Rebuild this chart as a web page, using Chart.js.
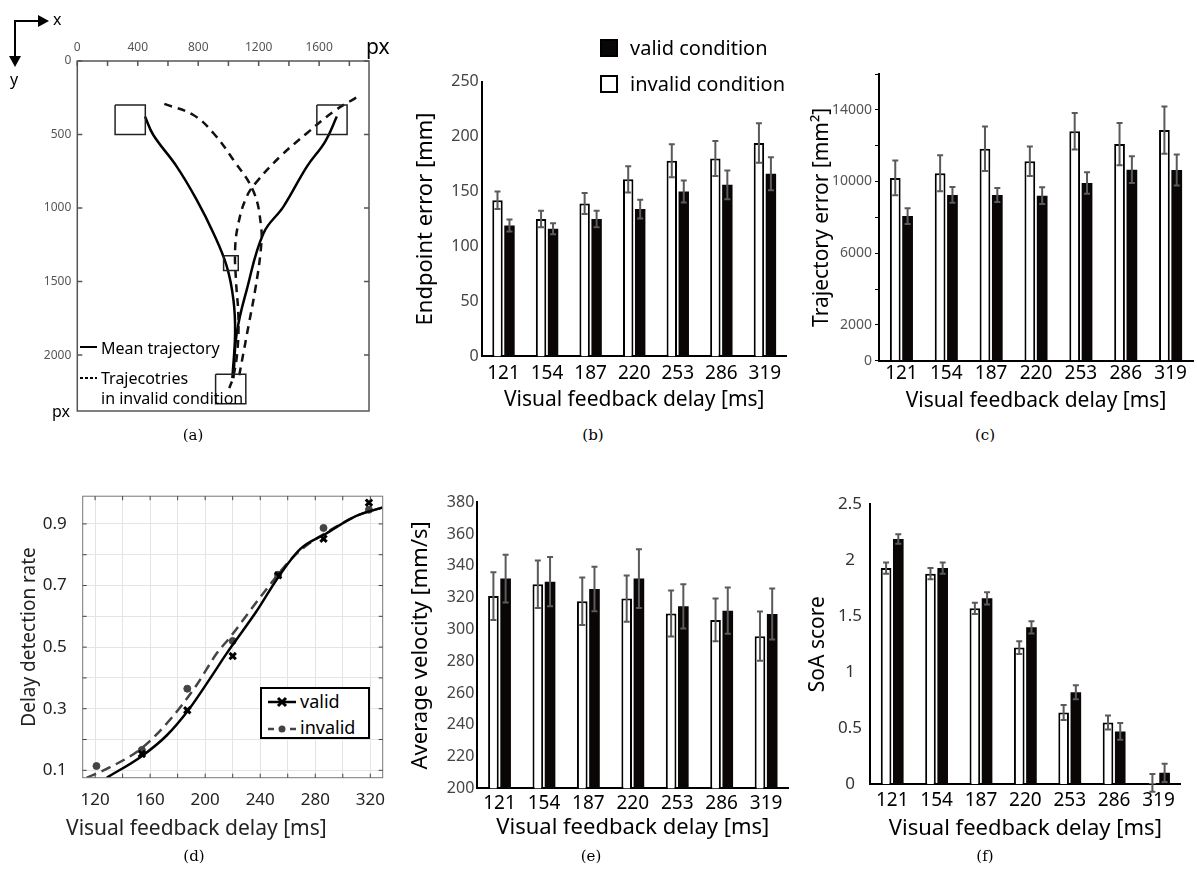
<!DOCTYPE html>
<html>
<head>
<meta charset="utf-8">
<title>Visual feedback delay results</title>
<script src="https://cdn.jsdelivr.net/npm/chart.js@4.4.1/dist/chart.umd.min.js"></script>
<style>
  body { margin: 0; background: #fff; font-family: "Noto Sans", sans-serif; color: #000; }
  #page { position: relative; width: 1197px; height: 881px; overflow: hidden; }
  .panel { position: absolute; display: block; }
  .txt { position: absolute; white-space: nowrap; line-height: 1; transform: translateY(-50%); }
  .cap { position: absolute; font-family: "DejaVu Serif", serif; font-size: 15px; transform: translate(-50%, -50%); }
  .sq { position: absolute; width: 18px; height: 18px; box-sizing: border-box; border: 2px solid #000; }
  #legD { position: absolute; left: 260px; top: 687px; width: 110px; height: 52px; box-sizing: border-box; border: 2px solid #000; background: #fff; }
</style>
</head>
<body>
<div id="page">
  <canvas id="chartA" class="panel" width="400" height="430" style="left:0;top:0"></canvas>
  <canvas id="chartB" class="panel" width="397" height="360" style="left:400px;top:60px"></canvas>
  <canvas id="chartC" class="panel" width="397" height="360" style="left:800px;top:60px"></canvas>
  <canvas id="chartD" class="panel" width="400" height="380" style="left:0;top:470px"></canvas>
  <canvas id="chartE" class="panel" width="397" height="380" style="left:400px;top:470px"></canvas>
  <canvas id="chartF" class="panel" width="407" height="380" style="left:790px;top:470px"></canvas>

  <!-- (a) axes arrows and notes -->
  <svg class="panel" style="left:0;top:0" width="70" height="90">
    <path d="M15 58 V21 H39" fill="none" stroke="#000" stroke-width="2"/>
    <path d="M38 15 L49 21 L38 27 Z" fill="#000"/>
    <path d="M9 56 L15 67 L21 56 Z" fill="#000"/>
  </svg>
  <div class="txt" style="left:53px;top:19px;font-size:16px">x</div>
  <div class="txt" style="left:10px;top:79px;font-size:16px">y</div>
  <div class="txt" style="left:366px;top:46px;font-size:21px">px</div>
  <div class="txt" style="left:52px;top:411px;font-size:16px">px</div>
  <svg class="panel" style="left:78px;top:340px" width="22" height="45">
    <line x1="2" y1="7" x2="19" y2="7" stroke="#000" stroke-width="2"/>
    <line x1="2" y1="38" x2="19" y2="38" stroke="#000" stroke-width="2" stroke-dasharray="3 2"/>
  </svg>
  <div class="txt" style="left:101px;top:348px;font-size:16px">Mean trajectory</div>
  <div class="txt" style="left:101px;top:378px;font-size:16px">Trajecotries</div>
  <div class="txt" style="left:101px;top:398px;font-size:16px">in invalid condition</div>

  <!-- (b) legend -->
  <div class="sq" style="left:600px;top:39px;background:#0a0606"></div>
  <div class="txt" style="left:630px;top:48px;font-size:20px">valid condition</div>
  <div class="sq" style="left:600px;top:75px;background:#fff"></div>
  <div class="txt" style="left:630px;top:84px;font-size:20px">invalid condition</div>

  <!-- (d) legend -->
  <div id="legD">
    <svg class="panel" style="left:4px;top:2px" width="32" height="46">
      <line x1="2" y1="11" x2="30" y2="11" stroke="#000" stroke-width="2.5"/>
      <path d="M12 7 L20 15 M20 7 L12 15" stroke="#000" stroke-width="3"/>
      <line x1="2" y1="38" x2="30" y2="38" stroke="#444" stroke-width="2.5" stroke-dasharray="6 5"/>
      <circle cx="16" cy="38" r="3.5" fill="#444"/>
    </svg>
    <div class="txt" style="left:38px;top:12px;font-size:18px">valid</div>
    <div class="txt" style="left:38px;top:38px;font-size:18px">invalid</div>
  </div>

  <div class="cap" style="left:193px;top:435px">(a)</div>
  <div class="cap" style="left:593px;top:435px">(b)</div>
  <div class="cap" style="left:985px;top:435px">(c)</div>
  <div class="cap" style="left:194px;top:856px">(d)</div>
  <div class="cap" style="left:591px;top:856px">(e)</div>
  <div class="cap" style="left:985px;top:856px">(f)</div>
</div>

<script>
// ---- data ----
const delays = ["121", "154", "187", "220", "253", "286", "319"];
const delayMs = [121, 154, 187, 220, 253, 286, 319];

// (a) trajectories on screen [px]
const screenTicksX = [0, 200, 400, 600, 800, 1000, 1200, 1400, 1600, 1800];
const screenTicksY = [0, 500, 1000, 1500, 2000];
const meanLeft = [[1026, 2156], [1044, 1850], [1033, 1624], [989, 1397], [901, 1171], [790, 944], [658, 718], [503, 503], [448, 378]];
const meanRight = [[1033, 2156], [1055, 1850], [1121, 1556], [1232, 1171], [1364, 990], [1519, 718], [1640, 548], [1717, 378]];
const invalidA = [[576, 292], [768, 367], [901, 491], [1033, 673], [1166, 888], [1216, 1125], [1214, 1284], [1177, 1556], [1132, 1805], [1099, 1986], [1066, 2167]];
const invalidB = [[1845, 249], [1695, 344], [1519, 491], [1342, 650], [1188, 820], [1121, 922], [1066, 1103], [1044, 1284], [1051, 1510], [1066, 1737], [1060, 1963], [1033, 2144], [1006, 2224]];
// boxes: x1, y1, x2, y2
const boxes = [[250, 300, 450, 500], [1585, 300, 1785, 500], [968, 1325, 1065, 1425], [915, 2130, 1115, 2330]];

// (b) endpoint error [mm]
const endpointInvalid = [142, 125, 139, 161, 178, 180, 194];
const endpointInvalidErr = [8, 7.5, 9.5, 12, 15, 16, 18];
const endpointValid = [119, 116, 125, 134, 150, 156, 166];
const endpointValidErr = [5.5, 5, 7.5, 8.5, 10, 13, 15];

// (c) trajectory error [mm^2]
const trajInvalid = [10200, 10460, 11830, 11130, 12800, 12090, 12870];
const trajInvalidErr = [970, 1010, 1240, 820, 1020, 1180, 1320];
const trajValid = [8070, 9250, 9250, 9210, 9920, 10660, 10640];
const trajValidErr = [440, 440, 390, 465, 600, 745, 865];

// (d) delay detection rate
const detectValid = [null, 0.153, 0.295, 0.471, 0.733, 0.852, 0.969];
const detectInvalid = [0.114, 0.166, 0.365, 0.52, 0.735, 0.887, 0.946];
const fitValidX = [128.5, 153.9, 172, 187.7, 203.4, 215.5, 236.8, 253.7, 269, 288, 309.8, 328.7];
const fitValidY = [0.076, 0.146, 0.213, 0.295, 0.397, 0.479, 0.613, 0.731, 0.818, 0.869, 0.926, 0.953];
const fitInvalidX = [114, 130.9, 153.9, 174.4, 193.8, 208.3, 217.9, 242.1, 262.7, 276, 288, 309.8, 328.7];
const fitInvalidY = [0.076, 0.11, 0.172, 0.264, 0.377, 0.479, 0.531, 0.674, 0.787, 0.838, 0.872, 0.926, 0.953];

// (e) average velocity [mm/s]
const velInvalid = [321, 328.4, 317.7, 319.4, 310, 306, 295.7];
const velInvalidErr = [15, 15, 15, 14.5, 14.5, 13.5, 15.5];
const velValid = [332, 330, 325.4, 332, 314.5, 311.8, 309.7];
const velValidErr = [15, 15.5, 14, 18.5, 14, 14.5, 16];

// (f) SoA score
const soaInvalid = [1.93, 1.88, 1.57, 1.22, 0.64, 0.55, 0.01];
const soaInvalidErr = [0.05, 0.05, 0.05, 0.057, 0.067, 0.063, 0.08];
const soaValid = [2.19, 1.93, 1.66, 1.40, 0.82, 0.47, 0.10];
const soaValidErr = [0.042, 0.05, 0.055, 0.055, 0.062, 0.075, 0.082];

// ---- defaults ----
Chart.defaults.font.family = '"Noto Sans", sans-serif';
Chart.defaults.color = "#000";
Chart.defaults.animation = false;
Chart.defaults.responsive = false;
Chart.defaults.plugins.legend.display = false;
Chart.defaults.plugins.tooltip.enabled = false;

const pts = (arr) => arr.map(([x, y]) => ({ x, y }));
const xy = (xs, ys) => xs.map((x, i) => ({ x, y: ys[i] })).filter((p) => p.y !== null);
const rect = ([x1, y1, x2, y2]) => [{ x: x1, y: y1 }, { x: x2, y: y1 }, { x: x2, y: y2 }, { x: x1, y: y2 }, { x: x1, y: y1 }];

// error bars on top of bars
const errorBars = {
  id: "errorBars",
  afterDatasetsDraw(chart) {
    const ctx = chart.ctx;
    const y = chart.scales.y;
    chart.data.datasets.forEach((ds, i) => {
      if (!ds.errors) return;
      chart.getDatasetMeta(i).data.forEach((bar, j) => {
        const top = y.getPixelForValue(ds.data[j] + ds.errors[j]);
        const bot = y.getPixelForValue(ds.data[j] - ds.errors[j]);
        ctx.save();
        ctx.strokeStyle = "#5a5a5a";
        ctx.lineWidth = 2;
        ctx.beginPath();
        ctx.moveTo(bar.x, top); ctx.lineTo(bar.x, bot);
        ctx.moveTo(bar.x - 3, top); ctx.lineTo(bar.x + 3, top);
        ctx.moveTo(bar.x - 3, bot); ctx.lineTo(bar.x + 3, bot);
        ctx.stroke();
        ctx.restore();
      });
    });
  },
};

// box around plot area with inward tick marks
const frame = {
  id: "frame",
  afterDraw(chart, args, opts) {
    const { ctx, chartArea: a } = chart;
    const sx = chart.scales.x, sy = chart.scales.y;
    const t = opts.tick;
    ctx.save();
    ctx.strokeStyle = opts.color;
    ctx.lineWidth = opts.width;
    ctx.strokeRect(a.left, a.top, a.right - a.left, a.bottom - a.top);
    ctx.beginPath();
    sx.ticks.forEach((tk) => {
      const p = sx.getPixelForValue(tk.value);
      if (opts.sides.includes("top")) { ctx.moveTo(p, a.top); ctx.lineTo(p, a.top + t); }
      if (opts.sides.includes("bottom")) { ctx.moveTo(p, a.bottom); ctx.lineTo(p, a.bottom - t); }
    });
    sy.ticks.forEach((tk) => {
      const p = sy.getPixelForValue(tk.value);
      if (opts.sides.includes("left")) { ctx.moveTo(a.left, p); ctx.lineTo(a.left + t, p); }
      if (opts.sides.includes("right")) { ctx.moveTo(a.right, p); ctx.lineTo(a.right - t, p); }
    });
    ctx.strokeStyle = opts.tickColor;
    ctx.stroke();
    ctx.restore();
  },
};

const noGrid = { display: false, drawTicks: false };

// ---- (a) trajectories ----
new Chart("chartA", {
  type: "scatter",
  data: {
    datasets: [
      ...boxes.map((b) => ({ data: rect(b), showLine: true, borderColor: "#222", borderWidth: 1.5, pointRadius: 0, tension: 0 })),
      { data: pts(invalidA), showLine: true, borderColor: "#111", borderWidth: 2.5, borderDash: [8, 6], pointRadius: 0, tension: 0.4 },
      { data: pts(invalidB), showLine: true, borderColor: "#111", borderWidth: 2.5, borderDash: [8, 6], pointRadius: 0, tension: 0.4 },
      { data: pts(meanLeft), showLine: true, borderColor: "#000", borderWidth: 2.5, pointRadius: 0, tension: 0.4 },
      { data: pts(meanRight), showLine: true, borderColor: "#000", borderWidth: 2.5, pointRadius: 0, tension: 0.4 },
    ],
  },
  options: {
    layout: { padding: { left: 10, top: 20, right: 31, bottom: 19 } },
    plugins: { frame: { color: "#555", width: 1.5, tick: 5, tickColor: "#555", sides: ["top", "left", "right"] } },
    scales: {
      x: {
        type: "linear", position: "top", min: 0, max: 1930,
        grid: noGrid, border: { display: false },
        afterBuildTicks: (s) => { s.ticks = screenTicksX.map((value) => ({ value })); },
        ticks: { autoSkip: false, maxRotation: 0, padding: 6, color: "#555", font: { size: 12 },
          callback: (v) => (v % 400 === 0 && v <= 1600 ? String(v) : "") },
        afterFit: (s) => { s.height = 41; },
      },
      y: {
        type: "linear", reverse: true, min: 0, max: 2380,
        grid: noGrid, border: { display: false },
        afterBuildTicks: (s) => { s.ticks = screenTicksY.map((value) => ({ value })); },
        ticks: { padding: 6, color: "#555", font: { size: 12 }, callback: (v) => String(v) },
        afterFit: (s) => { s.width = 67.3; },
      },
    },
  },
  plugins: [frame],
});

// ---- bar panels (b), (c), (e), (f) ----
function barChart(id, inv, invErr, val, valErr, cfg) {
  return new Chart(id, {
    type: "bar",
    data: {
      labels: delays,
      datasets: [
        { label: "invalid condition", data: inv, errors: invErr, backgroundColor: "#fff", borderColor: "#000", borderWidth: 2 },
        { label: "valid condition", data: val, errors: valErr, backgroundColor: "#0a0606", borderColor: "#0a0606", borderWidth: 0 },
      ],
    },
    options: {
      layout: { padding: cfg.pad },
      datasets: { bar: { categoryPercentage: 0.55, barPercentage: 0.87 } },
      scales: {
        x: {
          grid: noGrid,
          border: { color: "#000", width: 2 },
          ticks: { color: "#000", font: { size: 19 }, padding: cfg.xPad, maxRotation: 0, autoSkip: false },
          title: { display: true, text: "Visual feedback delay [ms]", color: "#000", font: { size: cfg.xTitleSize }, padding: 0 },
          afterFit: (s) => { s.height = cfg.xH; },
        },
        y: {
          min: cfg.min, max: cfg.max,
          grid: cfg.yGrid || noGrid,
          border: { color: "#000", width: 2 },
          ticks: Object.assign({ stepSize: cfg.step, color: "#444", font: { size: 16 }, padding: 3, callback: (v) => String(v) }, cfg.yTicks || {}),
          title: { display: true, text: cfg.title, color: "#000", font: { size: cfg.titleSize || 22 }, padding: { top: cfg.tPad, bottom: 0 } },
          afterFit: (s) => { s.width = cfg.yW; },
        },
      },
    },
    plugins: [errorBars],
  });
}

barChart("chartB", endpointInvalid, endpointInvalidErr, endpointValid, endpointValidErr, {
  pad: { left: 8, top: 21.5, right: 10.3, bottom: 7.4 }, yW: 73.7, xH: 56.2, xPad: 6, tPad: 4.8, xTitleSize: 21,
  min: 0, max: 250, step: 50, title: "Endpoint error [mm]",
});

barChart("chartC", trajInvalid, trajInvalidErr, trajValid, trajValidErr, {
  pad: { left: 5, top: 14, right: 4, bottom: 6.4 }, yW: 74, xH: 52.9, xPad: 1, tPad: 4.4, titleSize: 21, xTitleSize: 21,
  min: 0, max: 16000, step: 2000, title: "Trajectory error [mm²]",
  yGrid: { display: true, drawOnChartArea: false, drawTicks: true, tickLength: 4, color: "#000" },
  yTicks: { font: { size: 14 }, color: "#555", padding: 3, callback: (v) => (v === 0 || v % 4000 === 2000 ? String(v) : "") },
});

barChart("chartE", velInvalid, velInvalidErr, velValid, velValidErr, {
  pad: { left: 5, top: 32.3, right: 8.7, bottom: 8.8 }, yW: 72.3, xH: 52.9, xPad: 4.3, tPad: 2.8, xTitleSize: 22,
  min: 200, max: 380, step: 20, title: "Average velocity [mm/s]",
});

barChart("chartF", soaInvalid, soaInvalidErr, soaValid, soaValidErr, {
  pad: { left: 5, top: 34.3, right: 16.3, bottom: 7.8 }, yW: 75, xH: 58.2, xPad: 5.6, tPad: 10.1, titleSize: 21, xTitleSize: 22,
  min: 0, max: 2.5, step: 0.5, title: "SoA score",
  yTicks: { font: { size: 17 }, color: "#333", padding: 8, crossAlign: "center" },
});

// ---- (d) delay detection rate ----
new Chart("chartD", {
  type: "scatter",
  data: {
    datasets: [
      { label: "valid fit", data: xy(fitValidX, fitValidY), showLine: true, borderColor: "#000", borderWidth: 2.5, pointRadius: 0, cubicInterpolationMode: "monotone" },
      { label: "invalid fit", data: xy(fitInvalidX, fitInvalidY), showLine: true, borderColor: "#444", borderWidth: 2.5, borderDash: [10, 6], pointRadius: 0, cubicInterpolationMode: "monotone" },
      { label: "valid", data: xy(delayMs, detectValid), pointStyle: "crossRot", pointRadius: 4.5, borderColor: "#000", borderWidth: 3 },
      { label: "invalid", data: xy(delayMs, detectInvalid), pointStyle: "circle", pointRadius: 3.5, backgroundColor: "#444", borderColor: "#444" },
    ],
  },
  options: {
    layout: { padding: { left: 10, top: 10.7, right: 17.3, bottom: 8 } },
    plugins: {
      title: { display: true, position: "bottom", text: "Visual feedback delay [ms]", color: "#222", font: { size: 21, weight: "normal" }, padding: 0 },
      frame: { color: "#777", width: 1, tick: 4, tickColor: "#444", sides: ["top", "bottom", "left", "right"] },
    },
    scales: {
      x: {
        type: "linear", min: 111, max: 329,
        grid: { color: "#e4e4e4", drawTicks: false }, border: { display: false },
        ticks: { stepSize: 20, includeBounds: false, autoSkip: false, maxRotation: 0, padding: 12, color: "#222", font: { size: 17 },
          callback: (v) => (v % 40 === 0 ? String(v) : "") },
        afterFit: (s) => { s.height = 39.1; },
      },
      y: {
        type: "linear", min: 0.076, max: 0.99,
        grid: { color: "#e4e4e4", drawTicks: false }, border: { display: false },
        ticks: { stepSize: 0.1, includeBounds: false, padding: 16, color: "#222", font: { size: 17 },
          callback: (v) => (Math.round(v * 10) % 2 === 1 ? v.toFixed(1) : "") },
        title: { display: true, text: "Delay detection rate", color: "#222", font: { size: 19 }, padding: { top: 8, bottom: 0 } },
        afterFit: (s) => { s.width = 72.7; },
      },
    },
  },
  plugins: [frame],
});
</script>
</body>
</html>
